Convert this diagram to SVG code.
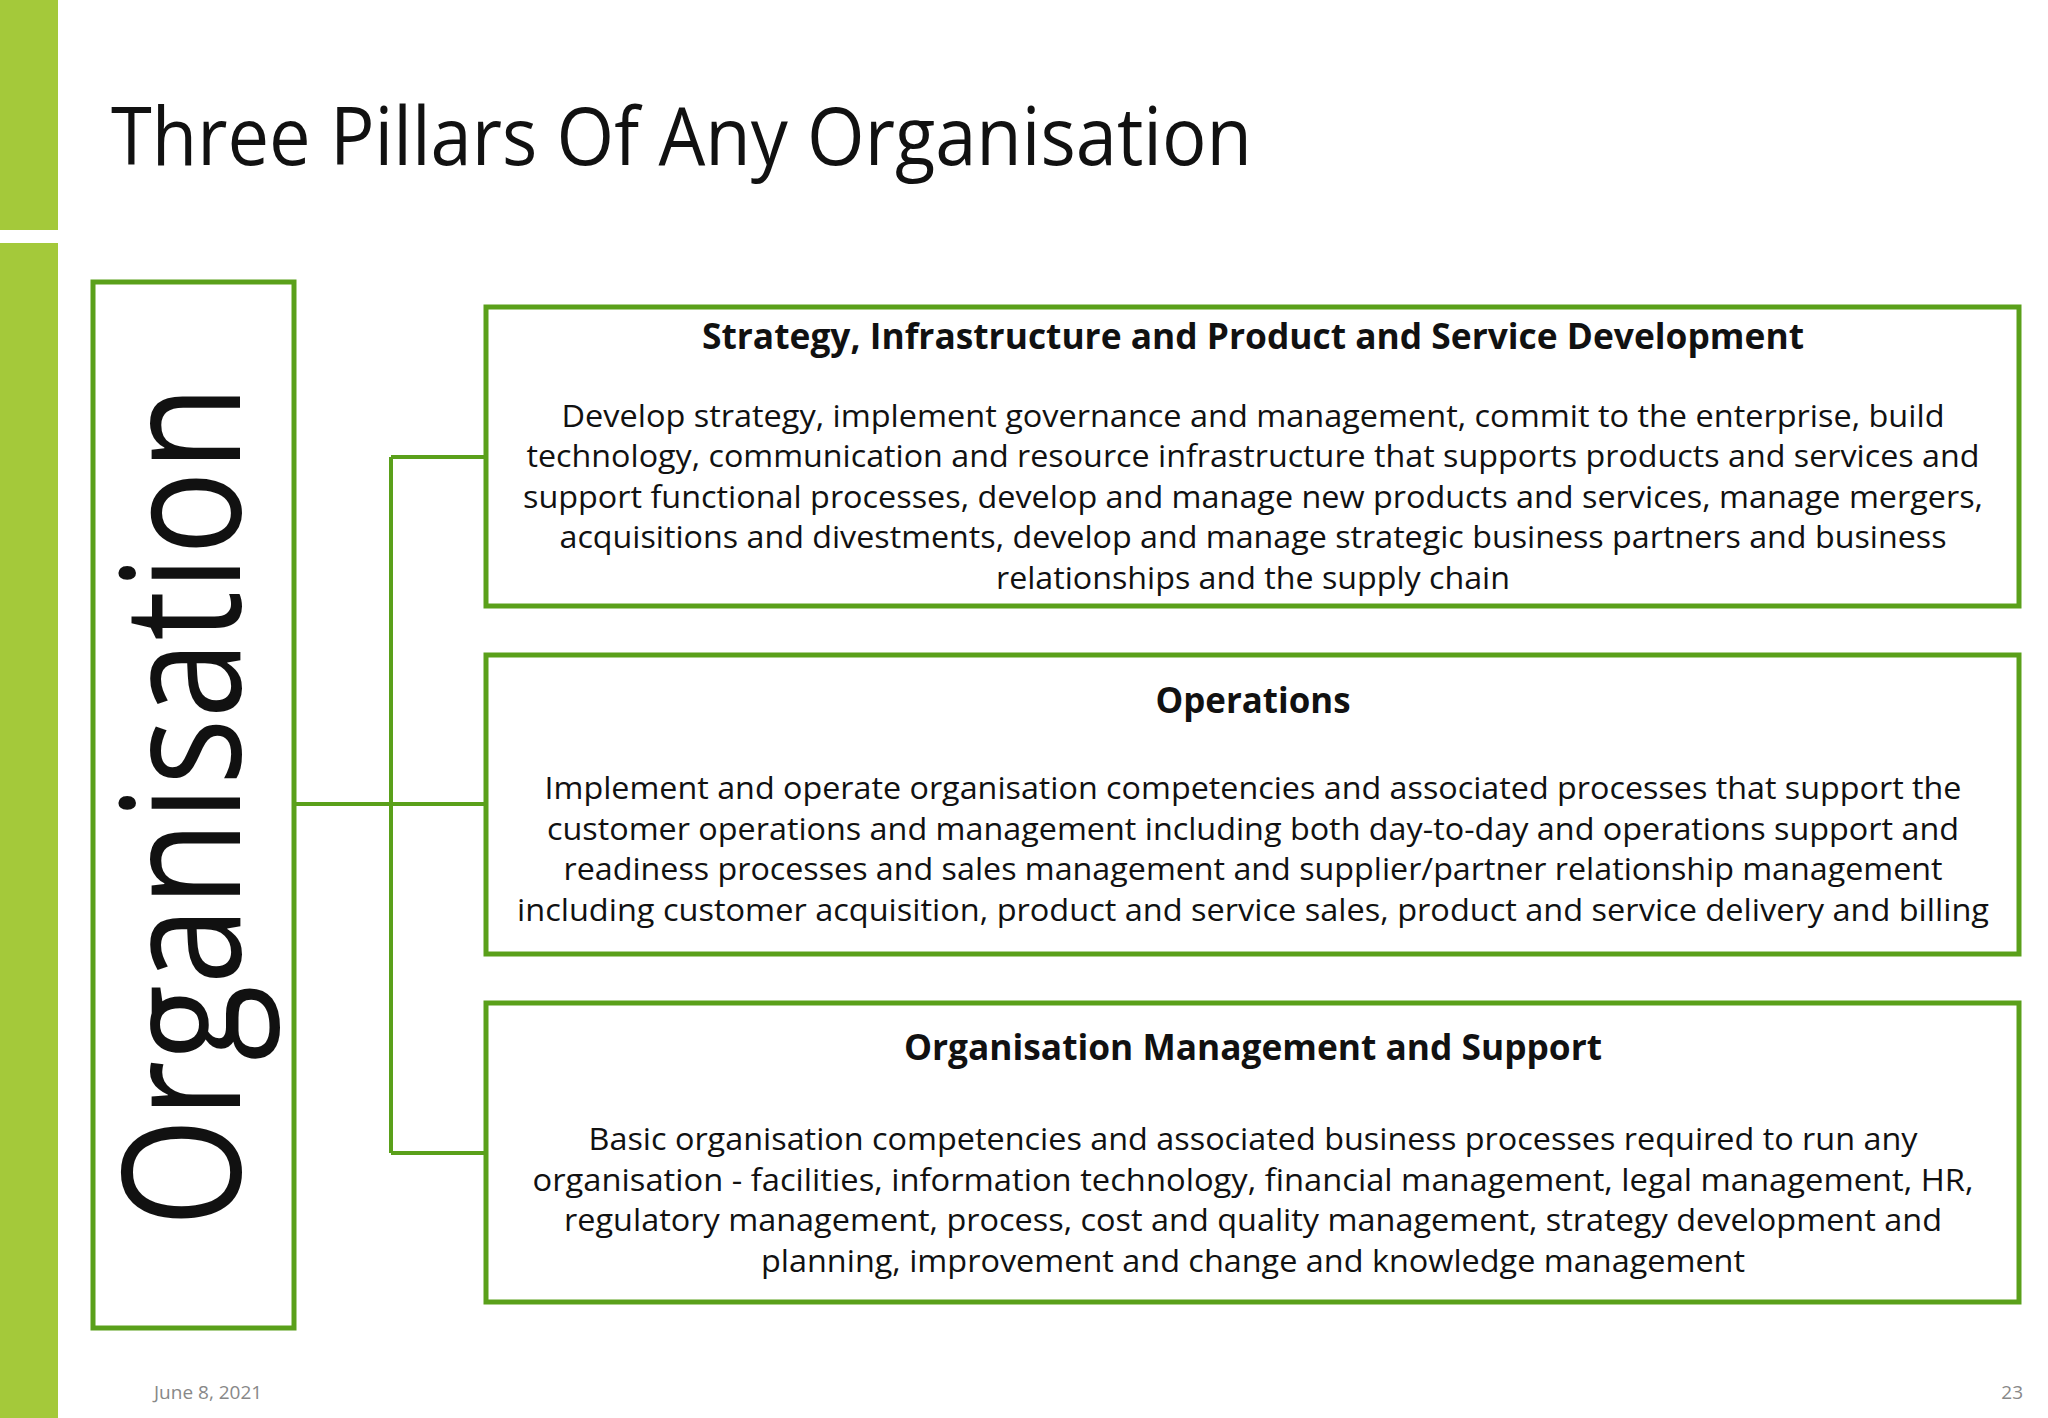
<svg xmlns="http://www.w3.org/2000/svg" width="2048" height="1418" viewBox="0 0 2048 1418">
<style>
.box{fill:#fff;stroke:#5aa01a;stroke-width:5}
.con{fill:none;stroke:#5aa01a;stroke-width:4}
text{font-family:"Open Sans","DejaVu Sans",sans-serif;fill:#111}
.h{font-size:36px;font-weight:bold;text-anchor:middle}
.b{font-size:31px;text-anchor:middle}
.f{font-size:19px;fill:#888}
</style>
<rect width="2048" height="1418" fill="#fff"/>
<rect x="0" y="0" width="58" height="230" fill="#a4c93a"/>
<rect x="0" y="243" width="58" height="1175" fill="#a4c93a"/>
<text x="111" y="165" font-size="80" textLength="1141" lengthAdjust="spacingAndGlyphs">Three Pillars Of Any Organisation</text>
<g id="org">
<rect class="box" x="93" y="282" width="201" height="1046"/>
<text transform="translate(240,806) rotate(-90)" font-size="165" text-anchor="middle" textLength="842" lengthAdjust="spacingAndGlyphs" fill="#000">Organisation</text>
</g>
<g id="connectors">
<path class="con" d="M294 804H486M391 457V1153M391 457H486M391 1153H486"/>
</g>
<g id="n1">
<rect class="box" x="486" y="307" width="1533" height="299"/>
<text class="h" x="1253" y="349" textLength="1102" lengthAdjust="spacingAndGlyphs">Strategy, Infrastructure and Product  and Service Development</text>
<text class="b" x="1253" y="427" textLength="1383" lengthAdjust="spacingAndGlyphs">Develop strategy, implement governance and management, commit to the enterprise, build</text>
<text class="b" x="1253" y="467" textLength="1453" lengthAdjust="spacingAndGlyphs">technology, communication and resource infrastructure that supports products and services and</text>
<text class="b" x="1253" y="508" textLength="1460" lengthAdjust="spacingAndGlyphs">support functional processes, develop and manage new products and services, manage mergers,</text>
<text class="b" x="1253" y="548" textLength="1387" lengthAdjust="spacingAndGlyphs">acquisitions and divestments, develop and manage strategic business partners and business</text>
<text class="b" x="1253" y="589" textLength="514" lengthAdjust="spacingAndGlyphs">relationships and the supply chain</text>
</g>
<g id="n2">
<rect class="box" x="486" y="655" width="1533" height="299"/>
<text class="h" x="1253" y="713" textLength="195" lengthAdjust="spacingAndGlyphs">Operations</text>
<text class="b" x="1253" y="799" textLength="1417" lengthAdjust="spacingAndGlyphs">Implement and operate organisation competencies and associated processes that support the</text>
<text class="b" x="1253" y="840" textLength="1412" lengthAdjust="spacingAndGlyphs">customer operations and management including both day-to-day and operations support and</text>
<text class="b" x="1253" y="880" textLength="1379" lengthAdjust="spacingAndGlyphs">readiness processes and sales management and supplier/partner relationship management</text>
<text class="b" x="1253" y="921" textLength="1472" lengthAdjust="spacingAndGlyphs">including customer acquisition, product and service sales, product and service delivery and billing</text>
</g>
<g id="n3">
<rect class="box" x="486" y="1003" width="1533" height="299"/>
<text class="h" x="1253" y="1060" textLength="698" lengthAdjust="spacingAndGlyphs">Organisation Management and Support</text>
<text class="b" x="1253" y="1150" textLength="1329" lengthAdjust="spacingAndGlyphs">Basic organisation competencies and associated  business processes required to run any</text>
<text class="b" x="1253" y="1191" textLength="1441" lengthAdjust="spacingAndGlyphs">organisation -  facilities, information technology, financial management, legal management, HR,</text>
<text class="b" x="1253" y="1231" textLength="1378" lengthAdjust="spacingAndGlyphs">regulatory management, process, cost and quality management, strategy development and</text>
<text class="b" x="1253" y="1272" textLength="984" lengthAdjust="spacingAndGlyphs">planning, improvement and change and knowledge management</text>
</g>
<text class="f" x="154" y="1399">June 8, 2021</text>
<text class="f" x="2023" y="1399" text-anchor="end">23</text>
</svg>
